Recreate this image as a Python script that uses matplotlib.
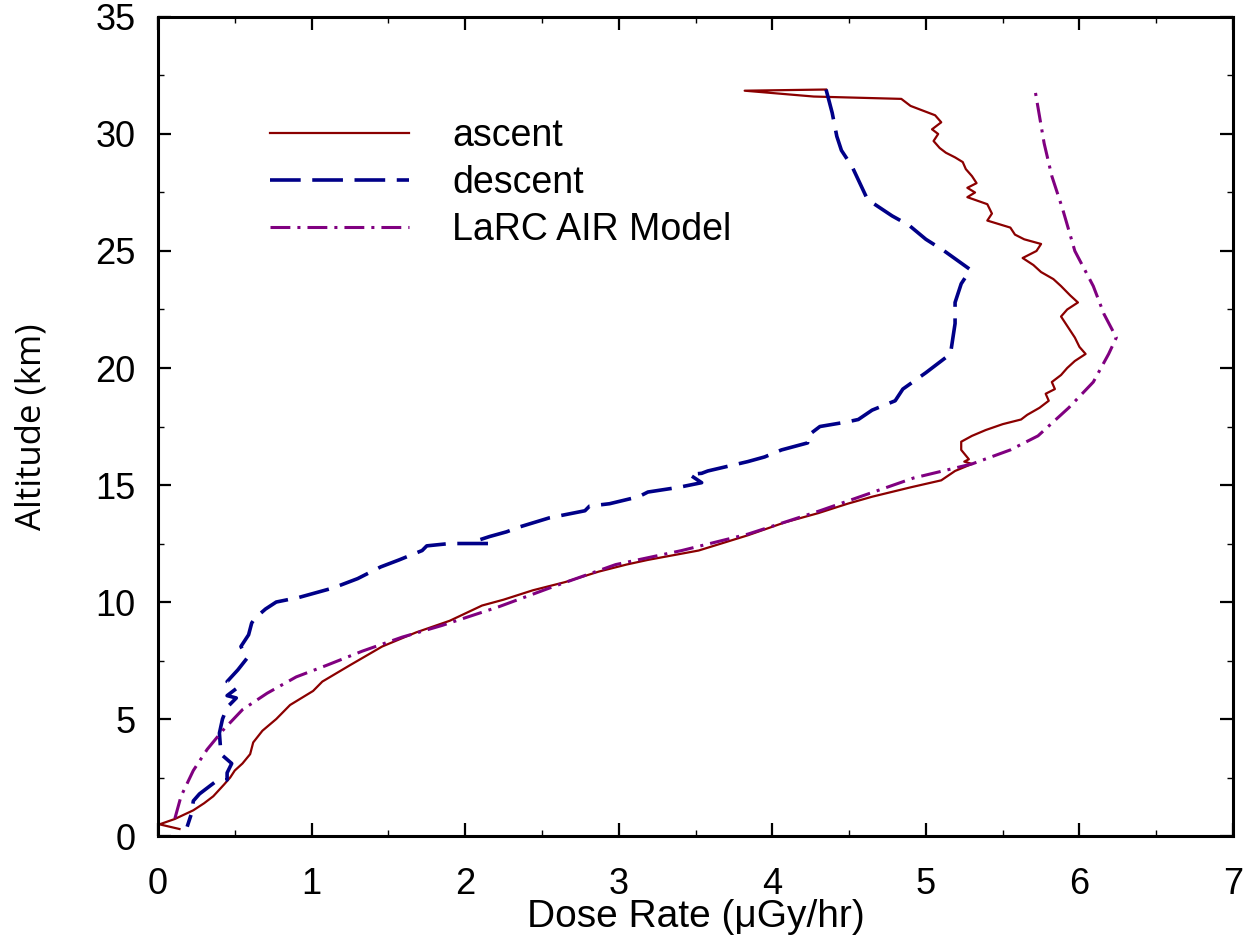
import numpy as np
import matplotlib
matplotlib.use('Agg')
import matplotlib.pyplot as plt

plt.rcParams['font.family'] = ['Liberation Sans', 'DejaVu Sans']

# ascent profile (dose rate, altitude km)
ascent_dose = [0.14, 0.01, 0.11, 0.23, 0.30, 0.36, 0.43, 0.47, 0.50, 0.55, 0.60, 0.62,
               0.68, 0.77, 0.86, 1.01, 1.07, 1.25, 1.46, 1.68, 1.90, 2.11, 2.25, 2.44,
               2.65, 2.87, 3.05, 3.19, 3.52, 3.84, 4.08, 4.30, 4.49, 4.65, 4.90, 5.10,
               5.19, 5.30, 5.25, 5.28, 5.23, 5.23, 5.30, 5.39, 5.50, 5.62, 5.66, 5.74,
               5.80, 5.78, 5.84, 5.82, 5.88, 5.92, 5.97, 6.04, 6.00, 5.97, 5.93, 5.88,
               5.92, 5.99, 5.94, 5.88, 5.83, 5.75, 5.70, 5.63, 5.72, 5.75, 5.64, 5.58,
               5.55, 5.45, 5.40, 5.43, 5.40, 5.27, 5.32, 5.27, 5.33, 5.30, 5.26, 5.24,
               5.19, 5.13, 5.09, 5.05, 5.08, 5.04, 5.10, 5.06, 4.98, 4.90, 4.84, 4.27,
               3.82, 4.35]
ascent_alt = [0.3, 0.5, 0.73, 1.1, 1.4, 1.7, 2.2, 2.5, 2.8, 3.1, 3.5, 4.0,
              4.5, 5.0, 5.6, 6.2, 6.6, 7.3, 8.1, 8.7, 9.2, 9.85, 10.1, 10.5,
              10.85, 11.3, 11.6, 11.8, 12.2, 12.85, 13.4, 13.8, 14.2, 14.5, 14.9, 15.2,
              15.6, 15.9, 16.0, 16.1, 16.5, 16.85, 17.1, 17.35, 17.6, 17.8, 18.0, 18.3,
              18.6, 18.9, 19.1, 19.4, 19.7, 20.0, 20.3, 20.6, 20.9, 21.3, 21.7, 22.2,
              22.5, 22.8, 23.1, 23.5, 23.8, 24.1, 24.4, 24.7, 25.0, 25.3, 25.5, 25.7,
              26.0, 26.2, 26.3, 26.6, 27.0, 27.3, 27.5, 27.7, 27.9, 28.2, 28.5, 28.8,
              29.0, 29.2, 29.4, 29.7, 30.0, 30.2, 30.5, 30.8, 31.0, 31.2, 31.5, 31.6,
              31.85, 31.9]

# descent profile
descent_dose = [4.35, 4.39, 4.42, 4.45, 4.52, 4.62, 4.78, 4.89, 5.00, 5.12, 5.29, 5.23,
                5.19, 5.19, 5.16, 5.00, 4.85, 4.80, 4.65, 4.56, 4.49, 4.31, 4.23, 4.23,
                4.06, 3.95, 3.84, 3.58, 3.54, 3.46, 3.54, 3.39, 3.19, 3.13, 2.94, 2.81,
                2.78, 2.55, 2.35, 2.27, 2.16, 2.09, 2.15, 1.90, 1.75, 1.72, 1.57, 1.45,
                1.36, 1.30, 1.14, 0.92, 0.77, 0.70, 0.63, 0.61, 0.59, 0.54, 0.58, 0.52,
                0.45, 0.51, 0.45, 0.51, 0.45, 0.42, 0.40, 0.41, 0.48, 0.45, 0.45, 0.37,
                0.27, 0.23, 0.22, 0.19]
descent_alt = [31.9, 30.9, 29.9, 29.3, 28.6, 27.2, 26.5, 26.1, 25.5, 25.0, 24.2, 23.6,
               22.8, 21.9, 20.6, 19.8, 19.1, 18.6, 18.2, 17.8, 17.7, 17.5, 17.1, 16.8,
               16.5, 16.2, 16.0, 15.6, 15.5, 15.45, 15.1, 14.9, 14.7, 14.5, 14.2, 14.1,
               13.9, 13.6, 13.2, 13.0, 12.8, 12.65, 12.5, 12.5, 12.4, 12.2, 11.8, 11.5,
               11.2, 11.0, 10.6, 10.2, 10.0, 9.7, 9.3, 9.1, 8.6, 8.1, 7.6, 7.1,
               6.6, 6.3, 6.0, 5.9, 5.5, 5.0, 4.4, 3.5, 3.1, 2.7, 2.4, 2.3,
               1.8, 1.5, 1.0, 0.4]

# LaRC AIR model
model_dose = [0.11, 0.15, 0.23, 0.32, 0.42, 0.55, 0.71, 0.90, 1.10, 1.33, 1.59, 1.85,
              2.22, 2.55, 2.98, 3.41, 3.84, 4.31, 4.92, 5.30, 5.55, 5.73, 5.93, 6.09,
              6.19, 6.24, 6.16, 6.09, 5.97, 5.89, 5.82, 5.77, 5.71]
model_alt = [0.75, 1.7, 2.8, 3.7, 4.5, 5.4, 6.1, 6.8, 7.3, 7.9, 8.5, 9.0,
             9.8, 10.6, 11.6, 12.2, 12.9, 13.9, 15.3, 15.9, 16.5, 17.1, 18.3, 19.4,
             20.6, 21.3, 22.3, 23.5, 25.0, 26.8, 28.2, 29.6, 31.9]

fig = plt.figure(figsize=(12.45, 9.38), dpi=100)
ax = fig.add_axes([0.1269, 0.1087, 0.8635, 0.8732])

ax.plot(ascent_dose, ascent_alt, color='#8b0000', lw=1.6, label='ascent')
ax.plot(descent_dose, descent_alt, color='#000088', lw=2.6, dashes=(8.5, 3.2), label='descent')
ax.plot(model_dose, model_alt, color='#800080', lw=2.2, dashes=(6.5, 2.3, 1, 2.3), label='LaRC AIR Model')

ax.set_xlim(0, 7)
ax.set_ylim(0, 35)
ax.set_xticks(range(0, 8))
ax.set_yticks(range(0, 36, 5))
ax.set_xticks(np.arange(0.5, 7, 1), minor=True)
ax.set_yticks(np.arange(2.5, 35, 5), minor=True)
ax.tick_params(which='both', direction='in', top=True, right=True)
ax.tick_params(which='major', length=9.5, width=1.6, labelsize=26)
ax.tick_params(which='minor', length=4.5, width=1.0)
ax.tick_params(axis='x', which='major', pad=22)
ax.tick_params(axis='y', which='major', pad=16)
for s in ax.spines.values():
    s.set_linewidth(2.2)

ax.set_xlabel('Dose Rate (\u03bcGy/hr)', fontsize=28, labelpad=-2)
ax.set_ylabel('Altitude (km)', fontsize=25, family=['Open Sans', 'DejaVu Sans'], labelpad=34)

ax.legend(loc='upper left', bbox_to_anchor=(0.073, 0.918), frameon=False, fontsize=27,
          handlelength=3.7, handletextpad=1.15, labelspacing=0.29)

fig.savefig('out.png', dpi=100)
